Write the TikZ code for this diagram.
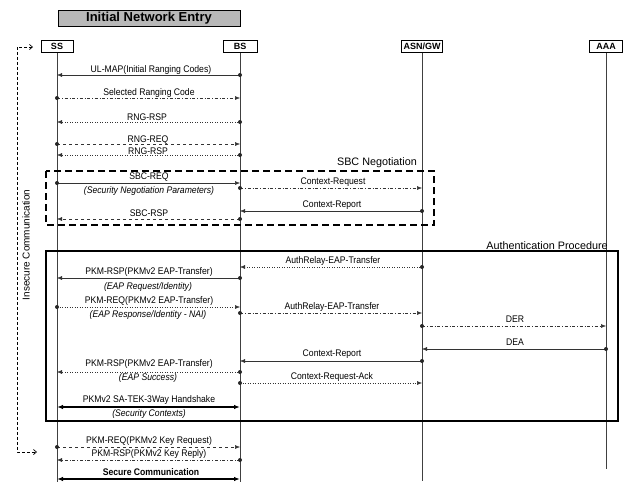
\documentclass[tikz,border=0pt]{standalone}
\usepackage{fontspec}
\setmainfont{Liberation Sans}
\newfontfamily\narrowfont{Liberation Sans}[FakeStretch=0.9]
\usetikzlibrary{arrows.meta}
\newcommand\mymsg[4]{%
  \draw[msg,#4] (#1 |- 0,#3) -- (#2 |- 0,#3);
  \fill[black!85] (#1 |- 0,#3) circle[radius=2pt];}
\begin{document}
\begin{tikzpicture}[x=1pt,y=-1pt,
  hdr/.style={draw, line width=1pt, font=\bfseries\fontsize{9}{10}\selectfont, inner sep=0pt, minimum height=12pt},
  life/.style={line width=0.6pt, black!75},
  lbl/.style={font=\narrowfont\fontsize{9.6}{11}\selectfont, inner sep=0pt},
  sublbl/.style={font=\narrowfont\itshape\fontsize{9.6}{11}\selectfont, inner sep=0pt},
  msg/.style={line width=0.5pt, black!80, -{Latex[length=5pt,width=4pt]}},
  bothmsg/.style={line width=1.3pt, {Latex[length=6pt,width=4.5pt]}-{Latex[length=6pt,width=4.5pt]}},
  frame/.style={font=\fontsize{10.8}{12}\selectfont, inner sep=0pt}
]
\useasboundingbox (0,0) rectangle (626,482);

% title
\node[draw, line width=1pt, fill=black!28, minimum width=182pt, minimum height=16pt, inner sep=0pt,
      font=\bfseries\fontsize{13}{14}\selectfont] (title) at (149,18) {Initial Network Entry};

% headers
\node[hdr, minimum width=32pt] (ss) at (57,46) {SS};
\node[hdr, minimum width=34pt] (bs) at (240,46) {BS};
\node[hdr, minimum width=41pt] (asn) at (422,46) {ASN/GW};
\node[hdr, minimum width=33pt] (aaa) at (606,46) {AAA};

\coordinate (ssend) at (57,482);
\coordinate (bsend) at (240,482);
\coordinate (asnend) at (422,481);
\coordinate (aaaend) at (606,469);
\draw[life] (ss.south) -- (ssend);
\draw[life] (bs.south) -- (bsend);
\draw[life] (asn.south) -- (asnend);
\draw[life] (aaa.south) -- (aaaend);

% insecure communication bracket
\coordinate (lt) at (17,47);
\coordinate (ltend) at (33,47);
\coordinate (lb) at (17,452);
\coordinate (lbend) at (37,452);
\draw[line width=0.7pt, dash pattern=on 3pt off 2pt, {Straight Barb[length=3pt,width=5pt]}-{Straight Barb[length=3pt,width=5pt]}]
  (ltend) -- (lt) -- (lb) -- (lbend);
\node[rotate=90, font=\fontsize{10}{12}\selectfont, inner sep=0pt] (ic) at (26,245) {Insecure Communication};

% frames
\draw[line width=1.8pt, dash pattern=on 7pt off 4pt] (46,171) rectangle (434,225);
\node[frame] (sbcn) at (377,163) {SBC Negotiation};
\draw[line width=1.2pt] (46,251) rectangle (618,421);
\node[frame] (authp) at (547,246) {Authentication Procedure};

% messages
\mymsg{bs}{ss}{75}{solid}
\node[lbl] (m1) at (151,70) {UL-MAP(Initial Ranging Codes)};
\mymsg{ss}{bs}{98}{dash dot}
\node[lbl] (m2) at (149,93) {Selected Ranging Code};
\mymsg{bs}{ss}{122}{dotted}
\node[lbl] (m3) at (147,117) {RNG-RSP};
\mymsg{ss}{bs}{144}{dashed}
\node[lbl] (m4) at (148,140) {RNG-REQ};
\mymsg{bs}{ss}{155}{dotted}
\node[lbl] (m5) at (148,151) {RNG-RSP};

\mymsg{ss}{bs}{183}{solid}
\node[lbl] (m6) at (149,177) {SBC-REQ};
\node[sublbl] (m6s) at (149,191) {(Security Negotiation Parameters)};
\mymsg{bs}{asn}{188}{dash dot}
\node[lbl] (m7) at (333,182) {Context-Request};
\mymsg{asn}{bs}{211}{solid}
\node[lbl] (m8) at (332,205) {Context-Report};
\mymsg{bs}{ss}{219}{dashed}
\node[lbl] (m9) at (149,213) {SBC-RSP};

\mymsg{asn}{bs}{267}{dotted}
\node[lbl] (m10) at (333,261) {AuthRelay-EAP-Transfer};
\mymsg{bs}{ss}{278}{solid}
\node[lbl] (m11) at (149,272) {PKM-RSP(PKMv2 EAP-Transfer)};
\node[sublbl] (m11s) at (148,287) {(EAP Request/Identity)};
\mymsg{ss}{bs}{307}{dotted}
\node[lbl] (m12) at (149,301) {PKM-REQ(PKMv2 EAP-Transfer)};
\node[sublbl] (m12s) at (148,315) {(EAP Response/Identity - NAI)};
\mymsg{bs}{asn}{313}{dash dot}
\node[lbl] (m13) at (332,307) {AuthRelay-EAP-Transfer};
\mymsg{asn}{aaa}{326}{dash dot}
\node[lbl] (m14) at (515,319) {DER};
\mymsg{aaa}{asn}{349}{solid}
\node[lbl] (m15) at (515,342) {DEA};
\mymsg{asn}{bs}{361}{solid}
\node[lbl] (m16) at (332,354) {Context-Report};
\mymsg{bs}{ss}{372}{dotted}
\node[lbl] (m17) at (149,364) {PKM-RSP(PKMv2 EAP-Transfer)};
\node[sublbl] (m17s) at (148,378) {(EAP Success)};
\mymsg{bs}{asn}{383}{dotted}
\node[lbl] (m18) at (332,377) {Context-Request-Ack};

\draw[bothmsg] (ss |- 0,407) -- (bs |- 0,407);
\node[lbl] (m19) at (149,400) {PKMv2 SA-TEK-3Way Handshake};
\node[sublbl] (m19s) at (149,414) {(Security Contexts)};

\mymsg{ss}{bs}{447}{dashed}
\node[lbl] (m20) at (149,441) {PKM-REQ(PKMv2 Key Request)};
\mymsg{bs}{ss}{460}{dash dot}
\node[lbl] (m21) at (149,454) {PKM-RSP(PKMv2 Key Reply)};
\draw[bothmsg] (ss |- 0,479) -- (bs |- 0,479);
\node[lbl, font=\narrowfont\bfseries\fontsize{9.6}{11}\selectfont] (m22) at (151,472) {Secure Communication};
\end{tikzpicture}
\end{document}
